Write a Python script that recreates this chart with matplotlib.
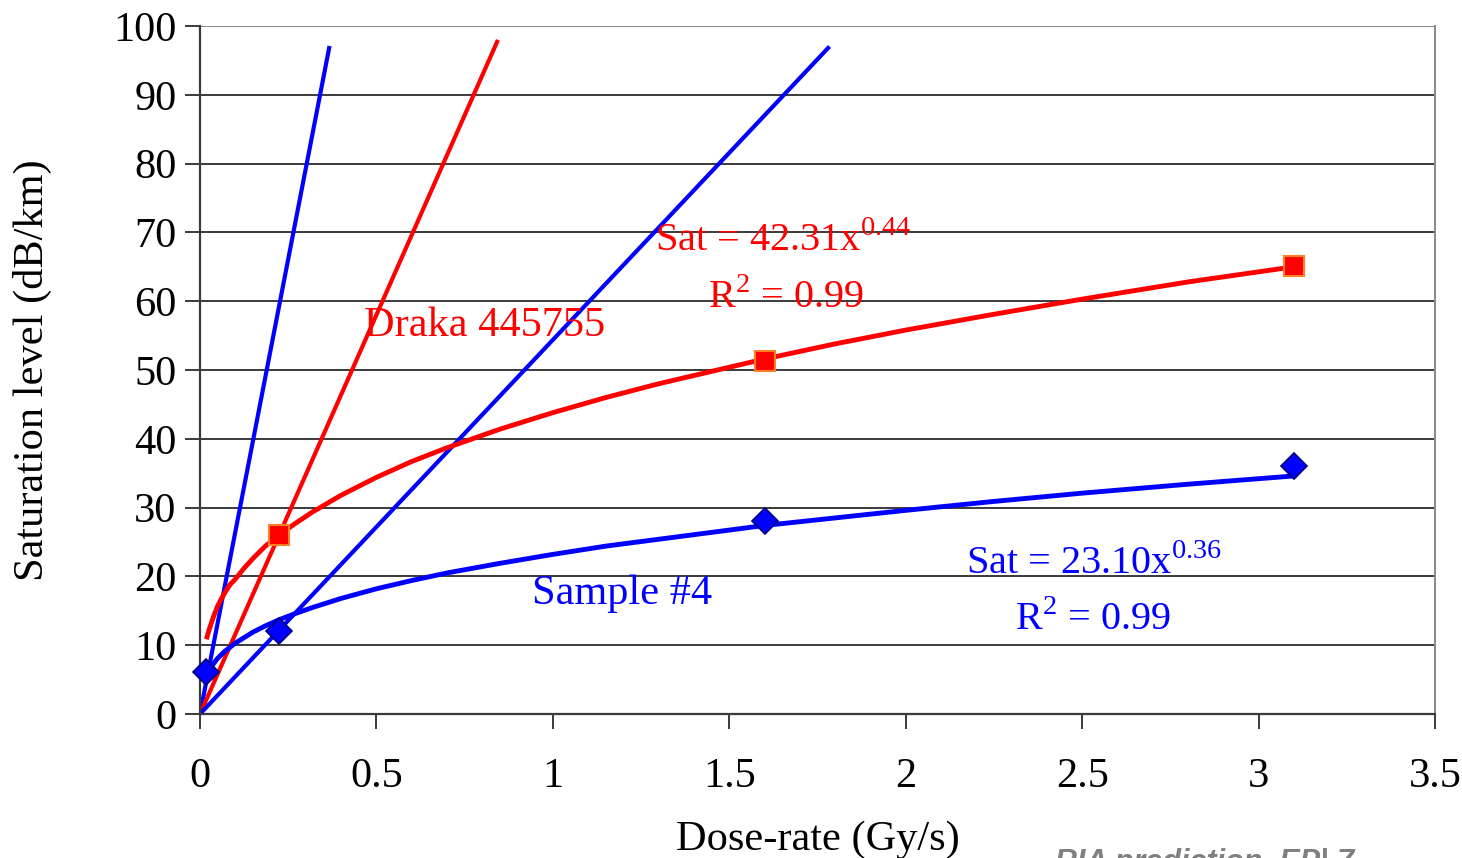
import matplotlib
matplotlib.use("Agg")
import matplotlib.pyplot as plt

plt.rcParams['font.family'] = ['Liberation Serif', 'DejaVu Serif']

# Measured data points
draka_x = [0.224, 1.6, 3.1]
draka_y = [26.0, 51.3, 65.1]
s4_x = [0.017, 0.224, 1.6, 3.1]
s4_y = [6.1, 12.1, 28.0, 36.0]

# Power-law trend curves
draka_fit_x = [0.02, 0.025, 0.03, 0.04, 0.05, 0.06, 0.07, 0.085, 0.1, 0.125, 0.15, 0.185, 0.224,
               0.27, 0.32, 0.4, 0.5, 0.6, 0.7, 0.85, 1.0, 1.15, 1.3, 1.6, 1.8, 2.0, 2.25, 2.5, 2.8, 3.1]
draka_fit_y = [11.2, 12.1, 12.9, 14.4, 15.7, 16.7, 17.6, 18.8, 19.6, 21.2, 22.6, 24.4, 26.0,
               27.7, 29.4, 31.8, 34.4, 36.7, 38.7, 41.4, 43.8, 46.0, 48.0, 51.6, 53.8, 55.8, 58.1, 60.3, 62.8, 65.0]
s4_fit_x = [0.028, 0.035, 0.05, 0.07, 0.085, 0.1, 0.125, 0.15, 0.185, 0.224, 0.27, 0.32, 0.4, 0.5,
            0.6, 0.7, 0.85, 1.0, 1.15, 1.3, 1.6, 1.8, 2.0, 2.25, 2.5, 2.8, 3.1]
s4_fit_y = [6.6, 7.1, 8.1, 9.1, 9.7, 10.3, 11.1, 11.9, 12.8, 13.7, 14.6, 15.5, 16.8, 18.2,
            19.4, 20.5, 21.9, 23.2, 24.4, 25.4, 27.4, 28.5, 29.6, 30.9, 32.1, 33.4, 34.6]

# Straight lines from origin
blue_steep_x = [0.0, 0.366]
blue_steep_y = [0.0, 96.8]
red_line_x = [0.0, 0.842]
red_line_y = [0.0, 97.7]
blue_line_x = [0.0, 1.78]
blue_line_y = [0.0, 96.8]

x_ticks = [0, 0.5, 1, 1.5, 2, 2.5, 3, 3.5]
x_tick_labels = ['0', '0.5', '1', '1.5', '2', '2.5', '3', '3.5']
y_ticks = list(range(0, 101, 10))

RED = '#FF0000'
BLUE = '#0000FF'

fig = plt.figure(figsize=(14.62, 8.58), dpi=100)
ax = fig.add_axes([200/1462, 1-714/858, (1435-200)/1462, (714-26)/858])

ax.set_xlim(0, 3.5)
ax.set_ylim(0, 100)

for yv in y_ticks[1:]:
    ax.axhline(yv, color='#3a3a3a' if yv < 100 else '#888888', lw=1.4, zorder=0)

ax.plot(blue_steep_x, blue_steep_y, color=BLUE, lw=3, zorder=2)
ax.plot(red_line_x, red_line_y, color=RED, lw=3, zorder=2)
ax.plot(blue_line_x, blue_line_y, color=BLUE, lw=3, zorder=2)
ax.plot(draka_fit_x, draka_fit_y, color=RED, lw=3.5, zorder=3, solid_joinstyle='round')
ax.plot(s4_fit_x, s4_fit_y, color=BLUE, lw=3.5, zorder=3, solid_joinstyle='round')

ax.plot(draka_x, draka_y, linestyle='none', marker='s', markersize=15,
        markerfacecolor=RED, markeredgecolor='#FF7F27', markeredgewidth=1.5, zorder=5, clip_on=False)
ax.plot(s4_x, s4_y, linestyle='none', marker='D', markersize=13,
        markerfacecolor=BLUE, markeredgecolor='#000080', markeredgewidth=1.2, zorder=5, clip_on=False)

fs = 30.5
ax.text(0.465, 56.5, 'Draka 445755', color=RED, fontsize=fs, ha='left', va='center', zorder=6)
ax.text(0.94, 17.5, 'Sample #4', color=BLUE, fontsize=fs, ha='left', va='center', zorder=6)
ax.text(1.29, 68.7, r'Sat = 42.31x$^{\mathregular{0.44}}$', color=RED, fontsize=29, ha='left', va='center', zorder=6)
ax.text(1.66, 60.5, r'R$^{\mathregular{2}}$ = 0.99', color=RED, fontsize=29, ha='center', va='center', zorder=6)
ax.text(2.17, 21.8, r'Sat = 23.10x$^{\mathregular{0.36}}$', color=BLUE, fontsize=29, ha='left', va='center', zorder=6)
ax.text(2.53, 13.6, r'R$^{\mathregular{2}}$ = 0.99', color=BLUE, fontsize=29, ha='center', va='center', zorder=6)

ax.set_xticks(x_ticks)
ax.set_xticklabels(x_tick_labels)
ax.set_yticks(y_ticks)
ax.tick_params(axis='both', direction='out', length=11, width=1.4, color='#3a3a3a', labelsize=fs)
ax.tick_params(axis='x', pad=20)
ax.tick_params(axis='y', pad=6)

ax.spines['top'].set_visible(False)
ax.spines['right'].set_color('#888888')
ax.spines['right'].set_linewidth(1.4)
ax.spines['left'].set_color('#3a3a3a')
ax.spines['left'].set_linewidth(1.6)
ax.spines['bottom'].set_color('#3a3a3a')
ax.spines['bottom'].set_linewidth(1.6)

ax.set_xlabel('Dose-rate (Gy/s)', fontsize=fs, labelpad=18)
ax.set_ylabel('Saturation level (dB/km)', fontsize=fs, labelpad=44)

fig.text(1055/1462, -13/858, 'RIA prediction, EP| 7', fontsize=22, color='#808080',
         fontweight='bold', fontstyle='italic', family=['Liberation Sans', 'DejaVu Sans'],
         ha='left', va='baseline')

fig.savefig('out.png', dpi=100)
